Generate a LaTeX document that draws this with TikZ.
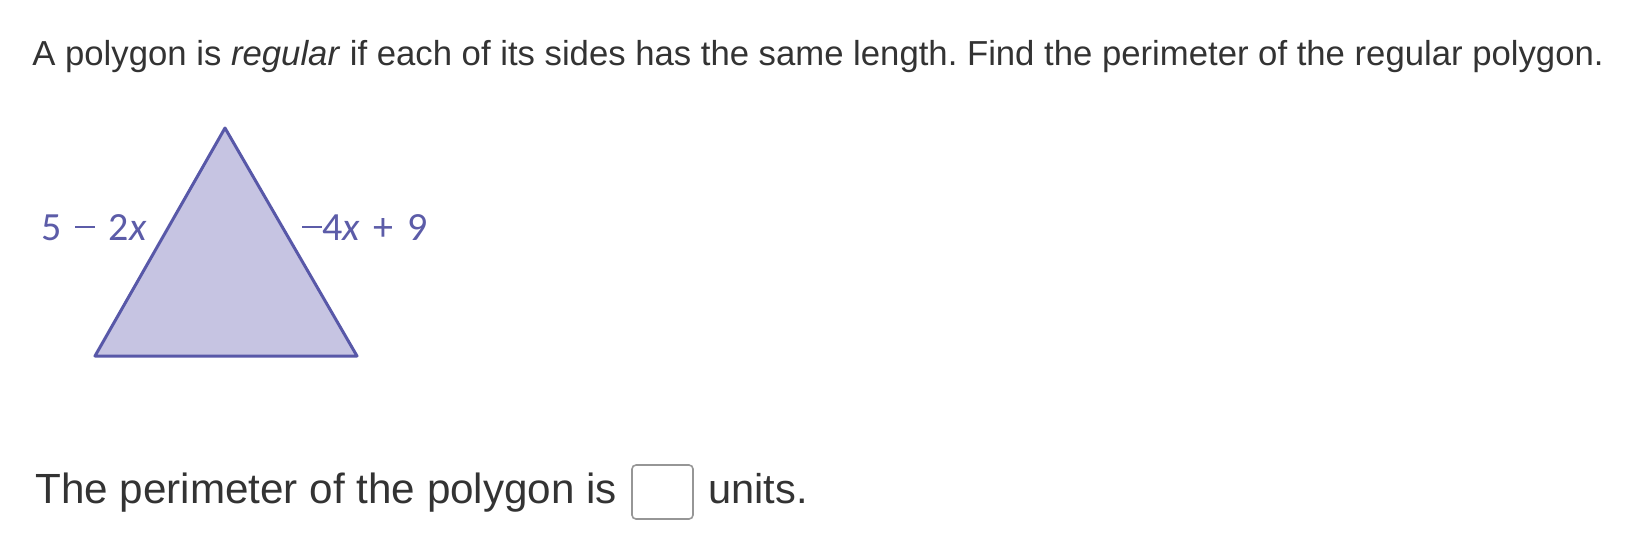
\documentclass[tikz,border=0pt]{standalone}
\usepackage{fontspec}
\setmainfont{Liberation Sans}
\newfontfamily\labelfont{Carlito}
\usetikzlibrary{positioning}
\definecolor{TextGray}{RGB}{51,51,51}
\definecolor{TriFill}{RGB}{198,196,226}
\definecolor{TriEdge}{RGB}{88,88,168}
\definecolor{LabelBlue}{RGB}{92,92,168}
\definecolor{BoxGray}{RGB}{150,150,150}
\frenchspacing
\newcommand{\labminus}{\rule[0.29em]{0.5em}{0.065em}}

\begin{document}
\begin{tikzpicture}[x=0.5pt, y=-0.5pt,
  sidelabel/.style={inner sep=0pt, LabelBlue, font=\labelfont\fontsize{20}{22}\selectfont}]
\useasboundingbox (0,0) rectangle (1641,553);
% question text
\node[anchor=base west, inner sep=0pt, TextGray, font=\fontsize{17.35}{20}\selectfont] (question) at (32,65)
  {A polygon is \textit{regular} if each of its sides has the same length. Find the perimeter of the regular polygon.};
% triangle
\coordinate (apex) at (225,128);
\coordinate (left) at (95,356);
\coordinate (right) at (357,356);
\fill[TriFill] (apex) -- (left) -- (right) -- cycle;
\draw[TriEdge, line width=1.5pt, line join=round] (apex) -- (left) -- (right) -- cycle;
\node[sidelabel, anchor=base east] (sideL) at (147,240) {5\hspace{0.34em}\labminus\hspace{0.34em}2\textit{x}};
\node[sidelabel, anchor=base west] (sideR) at (302,240) {\labminus4\textit{x}\hspace{0.34em}+\hspace{0.34em}9};
% answer line
\node[anchor=base west, inner sep=0pt, TextGray, font=\fontsize{21.1}{24}\selectfont] (answer) at (35,503) {The perimeter of the polygon is};
\draw[BoxGray, line width=0.8pt, rounded corners=2pt] (632,465) rectangle (693,519);
\node[anchor=base west, inner sep=0pt, TextGray, font=\fontsize{20.8}{24}\selectfont] (units) at (708,503) {units.};
\end{tikzpicture}
\end{document}
